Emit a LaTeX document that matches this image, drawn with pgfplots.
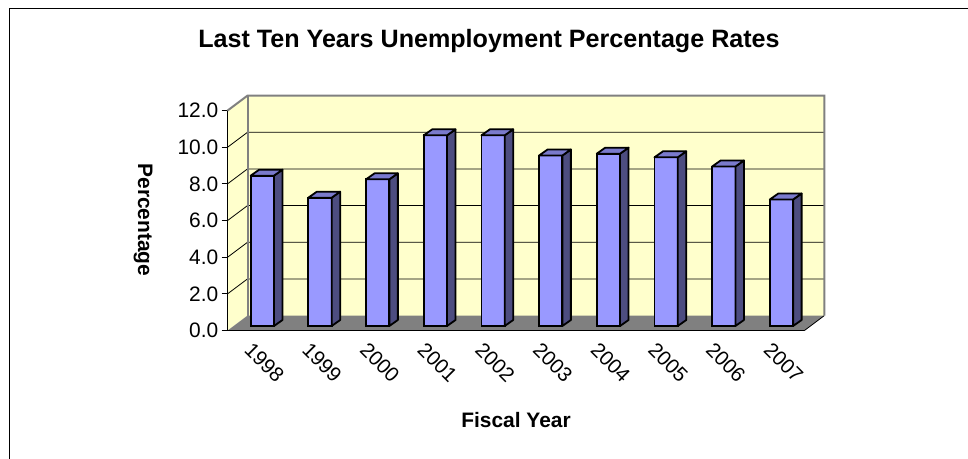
\documentclass[border=0pt]{standalone}
\usepackage{pgfplots}
\usepackage{pgfplotstable}
\pgfplotsset{compat=1.18}
\usepackage{fontspec}
\setmainfont{Liberation Sans}
\definecolor{wallyellow}{RGB}{255,255,204}
\definecolor{wallgrey}{RGB}{128,128,128}
\definecolor{barfront}{RGB}{153,153,255}
\definecolor{barside}{RGB}{77,77,128}
\definecolor{bartop}{RGB}{122,122,204}
\pgfdeclareplotmark{nothing}{}
\pgfplotstableread{
x v
0.5 8.2
1.5 7.0
2.5 8.0
3.5 10.4
4.5 10.4
5.5 9.3
6.5 9.4
7.5 9.2
8.5 8.7
9.5 6.9
}\ratetable
\begin{document}
\begin{tikzpicture}
\useasboundingbox (0,0) rectangle (968bp,459bp);
\clip (0,0) rectangle (968bp,459bp);
\draw[black, line width=1.2bp] (9.5bp,450.7bp) rectangle (990bp,-20bp);
\node[font=\bfseries\fontsize{25.2}{30}\selectfont, anchor=base] at (489bp,411.7bp) {Last Ten Years Unemployment Percentage Rates};
\node[font=\bfseries\fontsize{21}{25}\selectfont, rotate=-90] at (143bp,239bp) {Percentage};
\node[font=\bfseries\fontsize{21}{25}\selectfont] at (516bp,39bp) {Fiscal Year};
\begin{axis}[
  scale only axis, width=576.8bp, height=220bp,
  at={(227.5bp,128.4bp)}, anchor=south west,
  xmin=0, xmax=10, ymin=0, ymax=12,
  clip=false,
  axis line style={draw=none},
  xtick pos=bottom, ytick pos=left,
  tick align=outside,
  xtick={0.5,1.5,...,9.5},
  xticklabels={1998,1999,2000,2001,2002,2003,2004,2005,2006,2007},
  xtick style={draw=none},
  minor xtick={0,1,...,10},
  minor tick length=5bp,
  major tick length=6bp,
  every minor tick/.style={black, line width=1bp},
  ytick={0,2,...,12},
  yticklabels={0.0,2.0,4.0,6.0,8.0,10.0,12.0},
  ytick style={black, line width=1bp},
  yticklabel style={font=\fontsize{21}{25}\selectfont, anchor=east, inner sep=0pt, xshift=-3bp},
  xticklabel style={font=\fontsize{20.5}{24}\selectfont, rotate=-45, anchor=north west, inner sep=0pt, yshift=-5bp, xshift=1bp},
]
% back wall and left wall
\fill[wallyellow] ([shift={(20bp,15bp)}]axis cs:0,0) rectangle ([shift={(20bp,15bp)}]axis cs:10,12);
\fill[wallyellow] (axis cs:0,0) -- (axis cs:0,12) -- ([shift={(20bp,15bp)}]axis cs:0,12) -- ([shift={(20bp,15bp)}]axis cs:0,0) -- cycle;
% gridlines
\draw[black, line width=0.8bp] (axis cs:0,2) -- ++(20bp,15bp) -- ([shift={(20bp,15bp)}]axis cs:10,2);
\draw[black, line width=0.8bp] (axis cs:0,4) -- ++(20bp,15bp) -- ([shift={(20bp,15bp)}]axis cs:10,4);
\draw[black, line width=0.8bp] (axis cs:0,6) -- ++(20bp,15bp) -- ([shift={(20bp,15bp)}]axis cs:10,6);
\draw[black, line width=0.8bp] (axis cs:0,8) -- ++(20bp,15bp) -- ([shift={(20bp,15bp)}]axis cs:10,8);
\draw[black, line width=0.8bp] (axis cs:0,10) -- ++(20bp,15bp) -- ([shift={(20bp,15bp)}]axis cs:10,10);
% floor
\fill[wallgrey] (axis cs:0,0) -- (axis cs:10,0) -- ([shift={(20bp,15bp)}]axis cs:10,0) -- ([shift={(20bp,15bp)}]axis cs:0,0) -- cycle;
\draw[black, line width=0.8bp] (axis cs:10,0) -- ++(20bp,15bp);
% wall borders
\draw[wallgrey, line width=2bp, line join=miter] (axis cs:0,12) -- ++(20bp,15bp) -- ([shift={(20bp,15bp)}]axis cs:10,12) -- ([shift={(20bp,15bp)}]axis cs:10,0);
\draw[wallgrey, line width=2bp] ([shift={(20bp,15bp)}]axis cs:0,0) -- ([shift={(20bp,15bp)}]axis cs:0,12);
% bars: front faces
\addplot[ybar, bar width=23.3bp, bar shift=6bp, yshift=4.6bp, fill=barfront, draw=black, line width=1.8bp] table[x=x,y=v]{\ratetable};
% bars: side and top faces
\addplot[scatter, only marks, mark=nothing,
  visualization depends on={rawy \as \ry},
  scatter/@pre marker code/.code={%
    \fill[barside, draw=black, line width=1.8bp, line join=round]
      (17.65bp,4.6bp) -- ++(8.5bp,6bp) -- ++(0bp,{-\ry*18.3333bp}) -- ++(-8.5bp,-6bp) -- cycle;
    \fill[bartop, draw=black, line width=1.8bp, line join=round]
      (-5.65bp,4.6bp) -- (17.65bp,4.6bp) -- ++(8.5bp,6bp) -- ++(-23.3bp,0bp) -- cycle;
  },
  scatter/@post marker code/.code={}
] table[x=x,y=v]{\ratetable};
% front axis lines
\draw[black, line width=1.2bp] (axis cs:0,12) -- (axis cs:0,0) -- (axis cs:10,0);
\end{axis}
\end{tikzpicture}
\end{document}
